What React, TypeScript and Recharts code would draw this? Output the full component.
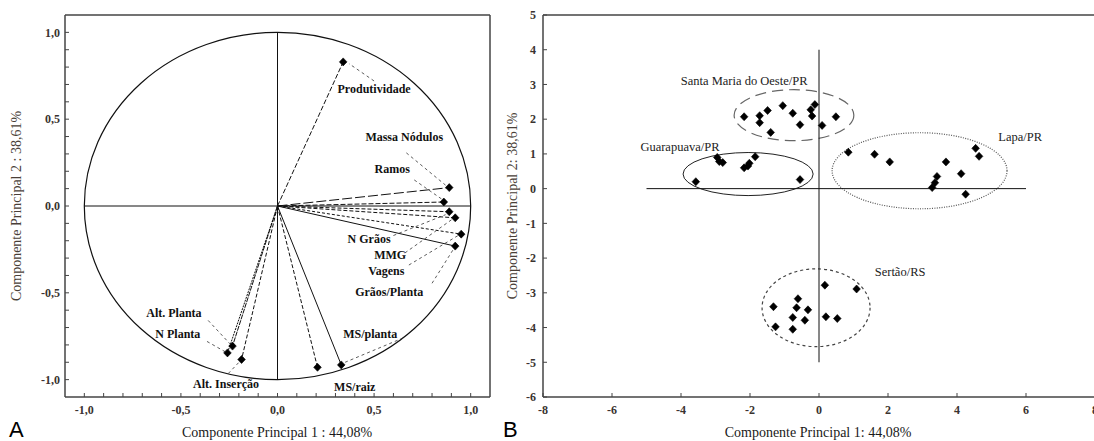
import React from 'react';
import { ScatterChart, Scatter, XAxis, YAxis, ReferenceLine, ReferenceArea } from 'recharts';

// ---------- Panel A: correlation circle ----------
const VAR_NAMES = ['Produtividade', 'Massa Nódulos', 'Ramos', 'N Grãos', 'MMG', 'Vagens', 'Grãos/Planta', 'MS/planta', 'MS/raiz', 'Alt. Planta', 'N Planta', 'Alt. Inserção'];
const VAR_PC1 = [0.34, 0.889, 0.861, 0.889, 0.92, 0.951, 0.92, 0.33, 0.207, -0.233, -0.259, -0.186];
const VAR_PC2 = [0.83, 0.106, 0.023, -0.033, -0.068, -0.162, -0.231, -0.915, -0.929, -0.807, -0.846, -0.884];
const VAR_DASH = ['5 2', '10 3', '5 2', '4 2', '4 2', '3 2', '', '', '4 2', '5 1', '2 1', '4 2'];
// label centres (data units)
const LABEL_PC1 = [0.5, 0.656, 0.594, 0.474, 0.583, 0.563, 0.578, 0.48, 0.4, -0.536, -0.516, -0.266];
const LABEL_PC2 = [0.676, 0.4, 0.214, -0.19, -0.283, -0.376, -0.497, -0.74, -1.04, -0.618, -0.74, -1.023];
// leader lines: from near label to near point (data units)
const LEADER_X1 = [0.5, 0.667, 0.708, 0.6, 0.66, 0.68, 0.8, 0.65, null, -0.359, -0.365, -0.255];
const LEADER_Y1 = [0.72, 0.306, 0.15, -0.17, -0.27, -0.34, -0.445, -0.76, null, -0.659, -0.78, -0.965];
const LEADER_X2 = [0.37, 0.87, 0.85, 0.87, 0.9, 0.935, 0.91, 0.35, null, -0.245, -0.27, -0.195];
const LEADER_Y2 = [0.82, 0.12, 0.04, -0.05, -0.08, -0.17, -0.25, -0.9, null, -0.795, -0.84, -0.895];

const A_TICKS = [-1, -0.9, -0.8, -0.7, -0.6, -0.5, -0.4, -0.3, -0.2, -0.1, 0, 0.1, 0.2, 0.3, 0.4, 0.5, 0.6, 0.7, 0.8, 0.9, 1];

// ---------- Panel B: scores ----------
const SMO_PC1 = [-2.17, -1.72, -1.72, -1.49, -1.4, -1.05, -0.76, -0.55, -0.24, -0.2, -0.12, 0.09, 0.49];
const SMO_PC2 = [2.07, 2.1, 1.9, 2.25, 1.62, 2.39, 2.17, 1.84, 2.27, 2.09, 2.42, 1.82, 2.07];
const GUA_PC1 = [-3.57, -2.95, -2.89, -2.79, -2.17, -2.06, -2.02, -1.85, -0.55];
const GUA_PC2 = [0.2, 0.9, 0.78, 0.75, 0.6, 0.65, 0.73, 0.92, 0.26];
const LAPA_PC1 = [0.85, 1.61, 2.05, 3.28, 3.36, 3.42, 3.68, 4.12, 4.25, 4.54, 4.64];
const LAPA_PC2 = [1.05, 0.99, 0.77, 0.03, 0.17, 0.35, 0.77, 0.43, -0.16, 1.16, 0.93];
const SER_PC1 = [-1.32, -1.26, -0.76, -0.76, -0.65, -0.61, -0.41, -0.32, 0.17, 1.09, 0.2, 0.53];
const SER_PC2 = [-3.4, -3.98, -3.71, -4.05, -3.43, -3.17, -3.79, -3.49, -2.78, -2.89, -3.69, -3.74];

const GROUP_NAMES = ['Santa Maria do Oeste/PR', 'Guarapuava/PR', 'Lapa/PR', 'Sertão/RS'];
const GROUP_LABEL_PC1 = [-2.17, -4.03, 5.83, 2.35];
const GROUP_LABEL_PC2 = [3.11, 1.21, 1.5, -2.39];
// ellipse extents [x1, x2, y1, y2]
const ELL_X1 = [-2.46, -3.94, 0.38, -1.65];
const ELL_X2 = [1.01, -0.17, 5.45, 1.48];
const ELL_Y1 = [1.38, -0.2, -0.58, -4.55];
const ELL_Y2 = [2.85, 1.04, 1.61, -2.31];
const ELL_DASH = ['11 6', '', '1 1.4', '3 3'];
const ELL_STROKE = ['#666', '#222', '#555', '#444'];

const B_X_TICKS = [-8, -6, -4, -2, 0, 2, 4, 6, 8];
const B_Y_TICKS = [-6, -5, -4, -3, -2, -1, 0, 1, 2, 3, 4, 5];

const SERIF = "'Liberation Serif', 'Times New Roman', serif";
const FRAME = '#444';

const toPts = (xs: number[], ys: number[]) => xs.map((x, i) => ({ x, y: ys[i] }));
const varPoints = toPts(VAR_PC1, VAR_PC2);
const varLabels = VAR_NAMES.map((name, i) => ({ x: LABEL_PC1[i], y: LABEL_PC2[i], name }));
const groupLabels = GROUP_NAMES.map((name, i) => ({ x: GROUP_LABEL_PC1[i], y: GROUP_LABEL_PC2[i], name }));

const Diamond = (p: any) => {
  const { cx, cy } = p;
  if (cx == null || cy == null) return <g />;
  return <path d={`M${cx},${cy - 4}L${cx + 3.8},${cy}L${cx},${cy + 4}L${cx - 3.8},${cy}Z`} fill="#000" stroke="#000" strokeWidth={0.6} strokeLinejoin="round" />;
};

const makeLabel = (bold: boolean) => (p: any) => (
  <text x={p.cx} y={p.cy} textAnchor="middle" dominantBaseline="central" fontFamily={SERIF} fontSize={bold ? 12 : 12.5}
    fontWeight={bold ? 'bold' : 'normal'} fill={bold ? '#111' : '#222'}>{p.payload.name}</text>
);

const makeEllipse = (stroke: string, dash: string, width: number) => (p: any) => (
  <ellipse cx={p.x + p.width / 2} cy={p.y + p.height / 2} rx={Math.abs(p.width / 2)} ry={Math.abs(p.height / 2)}
    fill="none" stroke={stroke} strokeWidth={width} strokeDasharray={dash || undefined} />
);

const fmtA = (v: number) => (Math.abs(v * 2 - Math.round(v * 2)) < 1e-6 ? v.toFixed(1).replace('.', ',').replace('-0,0', '0,0') : '');
const tickStyle = { fontFamily: SERIF, fontSize: 12, fontWeight: 'bold', fill: '#3a3330' };

function PanelA() {
  return (
    <ScatterChart width={500} height={441} margin={{ top: 10, right: 5, bottom: 14, left: 25 }}>
      <XAxis type="number" dataKey="x" domain={[-1.1, 1.1]} allowDataOverflow ticks={A_TICKS} interval={0}
        tickFormatter={fmtA} tickSize={-4} tickMargin={12} height={30} tick={tickStyle}
        axisLine={{ stroke: FRAME, strokeWidth: 1.5 }} tickLine={{ stroke: FRAME }} />
      <XAxis xAxisId="top" orientation="top" type="number" dataKey="x" domain={[-1.1, 1.1]} allowDataOverflow ticks={A_TICKS}
        interval={0} tick={false} tickSize={-4} height={5} axisLine={{ stroke: FRAME, strokeWidth: 1.5 }} tickLine={{ stroke: FRAME }} />
      <YAxis type="number" dataKey="y" domain={[-1.1, 1.1]} allowDataOverflow ticks={A_TICKS} interval={0}
        tickFormatter={fmtA} tickSize={-4} tickMargin={9} width={40} tick={tickStyle}
        axisLine={{ stroke: FRAME, strokeWidth: 1.5 }} tickLine={{ stroke: FRAME }} />
      <YAxis yAxisId="right" orientation="right" type="number" dataKey="y" domain={[-1.1, 1.1]} allowDataOverflow ticks={A_TICKS}
        interval={0} tick={false} tickSize={-4} width={5} axisLine={{ stroke: FRAME, strokeWidth: 1.5 }} tickLine={{ stroke: FRAME }} />
      <ReferenceArea x1={-1} x2={1} y1={-1} y2={1} shape={makeEllipse('#111', '', 1.2)} />
      <ReferenceLine segment={[{ x: -1, y: 0 }, { x: 1, y: 0 }]} stroke="#111" strokeWidth={1} />
      <ReferenceLine segment={[{ x: 0, y: -1 }, { x: 0, y: 1 }]} stroke="#111" strokeWidth={1} />
      {varPoints.map((pt, i) => (
        <ReferenceLine key={'v' + i} segment={[{ x: 0, y: 0 }, { x: pt.x, y: pt.y }]} stroke="#111" strokeWidth={1}
          strokeDasharray={VAR_DASH[i] || undefined} />
      ))}
      {VAR_NAMES.map((n, i) => LEADER_X1[i] == null ? null : (
        <ReferenceLine key={'l' + i} segment={[{ x: LEADER_X1[i] as number, y: LEADER_Y1[i] as number }, { x: LEADER_X2[i] as number, y: LEADER_Y2[i] as number }]}
          stroke="#333" strokeWidth={0.8} strokeDasharray="3 3" />
      ))}
      <Scatter data={varPoints} shape={Diamond} isAnimationActive={false} />
      <Scatter data={varLabels} xAxisId="top" yAxisId="right" shape={makeLabel(true)} isAnimationActive={false} />
    </ScatterChart>
  );
}

function PanelB() {
  const groups = [toPts(SMO_PC1, SMO_PC2), toPts(GUA_PC1, GUA_PC2), toPts(LAPA_PC1, LAPA_PC2), toPts(SER_PC1, SER_PC2)];
  return (
    <ScatterChart width={600} height={441} margin={{ top: 10, right: 0, bottom: 14, left: 13 }}>
      <XAxis type="number" dataKey="x" domain={[-8, 8]} allowDataOverflow ticks={B_X_TICKS} interval={0}
        tickSize={-4} tickMargin={12} height={30} tick={tickStyle}
        axisLine={{ stroke: FRAME, strokeWidth: 1.5 }} tickLine={{ stroke: FRAME }} />
      <XAxis xAxisId="top" orientation="top" type="number" dataKey="x" domain={[-8, 8]} allowDataOverflow ticks={B_X_TICKS}
        interval={0} tick={false} tickSize={-4} height={5} axisLine={{ stroke: FRAME, strokeWidth: 1.5 }} tickLine={{ stroke: FRAME }} />
      <YAxis type="number" dataKey="y" domain={[-6, 5]} allowDataOverflow ticks={B_Y_TICKS} interval={0}
        tickSize={-4} tickMargin={11} width={30} tick={tickStyle}
        axisLine={{ stroke: FRAME, strokeWidth: 1.5 }} tickLine={{ stroke: FRAME }} />
      <YAxis yAxisId="right" orientation="right" type="number" dataKey="y" domain={[-6, 5]} allowDataOverflow ticks={B_Y_TICKS}
        interval={0} tick={false} tickSize={-4} width={5} axisLine={{ stroke: FRAME, strokeWidth: 1.5 }} tickLine={{ stroke: FRAME }} />
      <ReferenceLine segment={[{ x: -5, y: 0 }, { x: 6, y: 0 }]} stroke="#111" strokeWidth={1} />
      <ReferenceLine segment={[{ x: 0, y: -5 }, { x: 0, y: 4 }]} stroke="#111" strokeWidth={1} />
      {GROUP_NAMES.map((n, i) => (
        <ReferenceArea key={'e' + i} x1={ELL_X1[i]} x2={ELL_X2[i]} y1={ELL_Y1[i]} y2={ELL_Y2[i]}
          shape={makeEllipse(ELL_STROKE[i], ELL_DASH[i], i === 1 ? 1 : 1.2)} />
      ))}
      {groups.map((g, i) => (
        <Scatter key={'g' + i} data={g} shape={Diamond} isAnimationActive={false} />
      ))}
      <Scatter data={groupLabels} xAxisId="top" yAxisId="right" shape={makeLabel(false)} isAnimationActive={false} />
    </ScatterChart>
  );
}

export default function App() {
  return (
    <div style={{ position: 'absolute', left: 0, top: 0, width: 1094, height: 441, overflow: 'hidden', background: '#fff' }}>
      <div style={{ position: 'absolute', left: 0, top: 0 }}><PanelA /></div>
      <div style={{ position: 'absolute', left: 500, top: 0 }}><PanelB /></div>
      <svg width={1094} height={441} style={{ position: 'absolute', left: 0, top: 0, pointerEvents: 'none' }}>
        <text x={16} y={206} transform="rotate(-90 16 206)" textAnchor="middle" dominantBaseline="central"
          fontFamily={SERIF} fontSize={14} fill="#4a3f38">Componente Principal 2 : 38,61%</text>
        <text x={277} y={437} textAnchor="middle" fontFamily={SERIF} fontSize={14} fill="#1a1a1a">Componente Principal 1 : 44,08%</text>
        <text x={512} y={206} transform="rotate(-90 512 206)" textAnchor="middle" dominantBaseline="central"
          fontFamily={SERIF} fontSize={14} fill="#4a3f38">Componente Principal 2: 38,61%</text>
        <text x={818} y={437} textAnchor="middle" fontFamily={SERIF} fontSize={14} fill="#1a1a1a">Componente Principal 1: 44,08%</text>
        <text x={9} y={437} fontFamily="'Liberation Sans', Arial, sans-serif" fontSize={22} fill="#000">A</text>
        <text x={503} y={437} fontFamily="'Liberation Sans', Arial, sans-serif" fontSize={22} fill="#000">B</text>
      </svg>
    </div>
  );
}
